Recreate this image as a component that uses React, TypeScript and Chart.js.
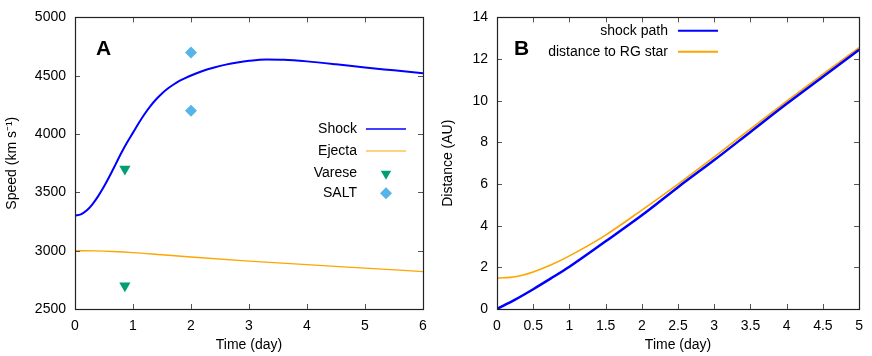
import React, { useEffect, useRef } from "react";
import { Chart, registerables } from "chart.js";
Chart.register(...registerables);

// ---------- Panel A data ----------
const shockTimeA = [0, 0.1, 0.2, 0.3, 0.4, 0.5, 0.6, 0.7, 0.8, 0.9, 1.0, 1.1, 1.2, 1.3, 1.4, 1.5, 1.6, 1.7, 1.8, 1.9, 2.0, 2.2, 2.4, 2.6, 2.8, 3.0, 3.3, 3.6, 4.0, 4.5, 5.0, 5.5, 6];
const shockSpeedA = [3300, 3312, 3345, 3398, 3468, 3550, 3642, 3740, 3840, 3930, 4012, 4095, 4172, 4240, 4298, 4348, 4390, 4425, 4455, 4480, 4502, 4540, 4570, 4595, 4614, 4628, 4639, 4637, 4623, 4598, 4570, 4546, 4522];
const ejectaTimeA = [0, 0.35, 0.65, 1, 1.5, 2, 3, 4, 5, 6];
const ejectaSpeedA = [3000, 2998, 2993, 2984, 2965, 2946, 2911, 2880, 2851, 2821];
const vareseTime = [0.86, 0.86];
const vareseSpeed = [3700, 2700];
const saltTime = [2, 2];
const saltSpeed = [4700, 4200];
const xTicksA = [0, 1, 2, 3, 4, 5, 6];
const yTicksA = [2500, 3000, 3500, 4000, 4500, 5000];
const legendLabelsA = ["Shock", "Ejecta", "Varese", "SALT"];

// ---------- Panel B data ----------
const timeB = [0, 0.25, 0.5, 0.75, 1, 1.5, 2, 2.5, 3, 3.5, 4, 4.5, 5];
const shockPathB = [0, 0.45, 0.95, 1.48, 2.03, 3.25, 4.5, 5.85, 7.15, 8.5, 9.85, 11.15, 12.45];
const rgDistanceB = [1.48, 1.55, 1.78, 2.12, 2.55, 3.55, 4.75, 6.0, 7.3, 8.65, 9.98, 11.28, 12.55];
const xTicksB = [0, 0.5, 1, 1.5, 2, 2.5, 3, 3.5, 4, 4.5, 5];
const yTicksB = [0, 2, 4, 6, 8, 10, 12, 14];
const legendLabelsB = ["shock path", "distance to RG star"];

const BLUE = "#0000ff";
const ORANGE = "#ffa500";
const GREEN = "#009e73";
const LIGHTBLUE = "#56b4e9";
const FONT = "'Liberation Sans', Arial, Helvetica, sans-serif";

const pts = (xs: number[], ys: number[]) => xs.map((x, i) => ({ x, y: ys[i] }));

function drawTri(ctx: CanvasRenderingContext2D, x: number, y: number, r: number, color: string) {
  ctx.beginPath();
  ctx.moveTo(x, y + r);
  ctx.lineTo(x - r * 0.866, y - r * 0.5);
  ctx.lineTo(x + r * 0.866, y - r * 0.5);
  ctx.closePath();
  ctx.fillStyle = color;
  ctx.fill();
}
function drawDiamond(ctx: CanvasRenderingContext2D, x: number, y: number, r: number, color: string) {
  ctx.beginPath();
  ctx.moveTo(x, y - r);
  ctx.lineTo(x + r, y);
  ctx.lineTo(x, y + r);
  ctx.lineTo(x - r, y);
  ctx.closePath();
  ctx.fillStyle = color;
  ctx.fill();
}

type LegendItem = { text: string; kind: "line" | "tri" | "diamond"; color: string; width?: number };

function makeOverlay(letter: string, letterX: number, items: LegendItem[], textRight: number, lineX0: number, lineX1: number, rowYs: number[]) {
  return {
    id: "overlay" + letter,
    afterDraw(chart: any) {
      const ctx: CanvasRenderingContext2D = chart.ctx;
      const a = chart.chartArea;
      ctx.save();
      // inward ticks
      ctx.strokeStyle = "#555";
      ctx.lineWidth = 1;
      const xs = chart.scales.x;
      const ys = chart.scales.y;
      const tl = 5;
      ctx.beginPath();
      xs.ticks.forEach((t: any) => {
        const px = Math.round(xs.getPixelForValue(t.value)) + 0.5;
        ctx.moveTo(px, a.bottom);
        ctx.lineTo(px, a.bottom - tl);
        ctx.moveTo(px, a.top);
        ctx.lineTo(px, a.top + tl);
      });
      ys.ticks.forEach((t: any) => {
        const py = Math.round(ys.getPixelForValue(t.value)) + 0.5;
        ctx.moveTo(a.left, py);
        ctx.lineTo(a.left + tl, py);
        ctx.moveTo(a.right, py);
        ctx.lineTo(a.right - tl, py);
      });
      ctx.stroke();
      // frame
      ctx.strokeStyle = "#222";
      ctx.lineWidth = 1.2;
      ctx.strokeRect(Math.round(a.left) + 0.5, Math.round(a.top) + 0.5, Math.round(a.right - a.left), Math.round(a.bottom - a.top));
      // panel letter
      ctx.fillStyle = "#000";
      ctx.font = "bold 21px " + FONT;
      ctx.textAlign = "left";
      ctx.textBaseline = "alphabetic";
      ctx.fillText(letter, letterX, 55);
      // legend
      ctx.font = "14px " + FONT;
      ctx.textAlign = "right";
      ctx.textBaseline = "middle";
      items.forEach((it, i) => {
        const y = rowYs[i];
        ctx.fillStyle = "#000";
        ctx.fillText(it.text, textRight, y);
        if (it.kind === "line") {
          ctx.strokeStyle = it.color;
          ctx.lineWidth = it.width || 1.5;
          ctx.beginPath();
          ctx.moveTo(lineX0, y);
          ctx.lineTo(lineX1, y);
          ctx.stroke();
        } else if (it.kind === "tri") {
          drawTri(ctx, (lineX0 + lineX1) / 2, y + 1, 6, it.color);
        } else {
          drawDiamond(ctx, (lineX0 + lineX1) / 2, y, 6, it.color);
        }
      });
      ctx.restore();
    },
  };
}

function axisCommon(min: number, max: number, tickVals: number[], title: string, isY: boolean, size: number, pad: number) {
  return {
    type: "linear",
    min,
    max,
    afterBuildTicks: (scale: any) => {
      scale.ticks = tickVals.map((v) => ({ value: v }));
    },
    afterFit: (scale: any) => {
      if (isY) scale.width = size;
      else scale.height = size;
    },
    grid: { display: false, drawTicks: false },
    border: { display: false },
    ticks: {
      color: "#000",
      font: { family: FONT, size: 14 },
      padding: pad,
      autoSkip: false,
      maxRotation: 0,
      callback: (v: any) => String(v),
    },
    title: {
      display: true,
      text: title,
      color: "#000",
      font: { family: FONT, size: 14 },
      padding: isY ? { top: 4, bottom: 4 } : { top: 4, bottom: 2 },
    },
  };
}

function ChartA() {
  const ref = useRef<HTMLCanvasElement>(null);
  useEffect(() => {
    const overlay = makeOverlay(
      "A",
      96,
      [
        { text: legendLabelsA[0], kind: "line", color: BLUE, width: 1.5 },
        { text: legendLabelsA[1], kind: "line", color: ORANGE, width: 1.2 },
        { text: legendLabelsA[2], kind: "tri", color: GREEN },
        { text: legendLabelsA[3], kind: "diamond", color: LIGHTBLUE },
      ],
      357,
      366,
      406,
      [129, 151, 172.7, 193.3]
    );
    const chart = new Chart(ref.current!, {
      type: "line",
      data: {
        datasets: [
          {
            label: legendLabelsA[0],
            data: pts(shockTimeA, shockSpeedA),
            borderColor: BLUE,
            borderWidth: 2,
            pointRadius: 0,
            cubicInterpolationMode: "monotone",
            fill: false,
          },
          {
            label: legendLabelsA[1],
            data: pts(ejectaTimeA, ejectaSpeedA),
            borderColor: ORANGE,
            borderWidth: 1.3,
            pointRadius: 0,
            cubicInterpolationMode: "monotone",
            fill: false,
          },
          {
            label: legendLabelsA[2],
            data: pts(vareseTime, vareseSpeed),
            showLine: false,
            pointStyle: "triangle",
            rotation: 180,
            pointRadius: 6.5,
            pointBackgroundColor: GREEN,
            pointBorderWidth: 0,
            borderColor: GREEN,
          },
          {
            label: legendLabelsA[3],
            data: pts(saltTime, saltSpeed),
            showLine: false,
            pointStyle: "rectRot",
            pointRadius: 6,
            pointBackgroundColor: LIGHTBLUE,
            pointBorderWidth: 0,
            borderColor: LIGHTBLUE,
          },
        ],
      } as any,
      options: {
        responsive: false,
        animation: false,
        layout: { padding: { top: 14, right: 13, left: 0, bottom: 0 } },
        plugins: { legend: { display: false }, tooltip: { enabled: false } },
        scales: {
          x: axisCommon(0, 6, xTicksA, "Time (day)", false, 47, 9),
          y: axisCommon(2500, 5000, yTicksA, "Speed (km s\u207B\u00B9)", true, 75, 9),
        } as any,
      },
      plugins: [overlay],
    });
    return () => chart.destroy();
  }, []);
  return <canvas ref={ref} width={436} height={356} style={{ display: "block", width: 436, height: 356 }} />;
}

function ChartB() {
  const ref = useRef<HTMLCanvasElement>(null);
  useEffect(() => {
    const overlay = makeOverlay(
      "B",
      78,
      [
        { text: legendLabelsB[0], kind: "line", color: BLUE, width: 2 },
        { text: legendLabelsB[1], kind: "line", color: ORANGE, width: 2 },
      ],
      232,
      242,
      282,
      [30.7, 51.7]
    );
    const chart = new Chart(ref.current!, {
      type: "line",
      data: {
        datasets: [
          {
            label: legendLabelsB[0],
            data: pts(timeB, shockPathB),
            borderColor: BLUE,
            borderWidth: 2.5,
            pointRadius: 0,
            cubicInterpolationMode: "monotone",
            fill: false,
          },
          {
            label: legendLabelsB[1],
            data: pts(timeB, rgDistanceB),
            borderColor: ORANGE,
            borderWidth: 1.6,
            pointRadius: 0,
            cubicInterpolationMode: "monotone",
            fill: false,
          },
        ],
      } as any,
      options: {
        responsive: false,
        animation: false,
        layout: { padding: { top: 14, right: 9, left: 0, bottom: 0 } },
        plugins: { legend: { display: false }, tooltip: { enabled: false } },
        scales: {
          x: axisCommon(0, 5, xTicksB, "Time (day)", false, 47, 9),
          y: axisCommon(0, 14, yTicksB, "Distance (AU)", true, 61, 9),
        } as any,
      },
      plugins: [overlay],
    });
    return () => chart.destroy();
  }, []);
  return <canvas ref={ref} width={436} height={356} style={{ display: "block", width: 436, height: 356 }} />;
}

export default function App() {
  return (
    <div style={{ position: "absolute", left: 0, top: 0, width: 872, height: 356, background: "#fff", display: "flex" }}>
      <ChartA />
      <ChartB />
    </div>
  );
}
